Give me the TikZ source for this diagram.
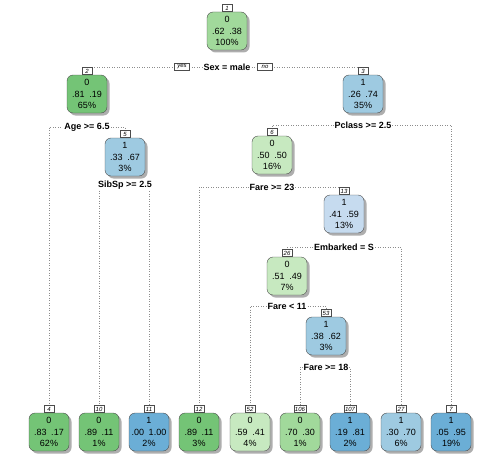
\documentclass[tikz,border=0pt]{standalone}
\usepackage{fontspec}
\setmainfont{Liberation Sans}
\usepackage{xcolor}
\usepackage{tikz}
\usetikzlibrary{positioning,shadows,backgrounds}

\definecolor{gnDark}{RGB}{116,196,118}
\definecolor{gnMid}{RGB}{161,217,155}
\definecolor{gnLight}{RGB}{199,233,192}
\definecolor{buLight}{RGB}{198,219,239}
\definecolor{buMid}{RGB}{158,202,225}
\definecolor{buDark}{RGB}{107,174,214}

\begin{document}
\begin{tikzpicture}[
  x=1pt, y=-1pt,
  treebox/.style={draw=black!70, rounded corners=6pt, minimum width=40pt, minimum height=38pt, inner sep=1pt, align=center,
    font=\fontsize{9}{11.5}\selectfont,
    drop shadow={shadow xshift=2.5pt, shadow yshift=-2.5pt, opacity=0.45, fill=black!70}},
  dkgreenbox/.style={treebox, fill=gnDark},
  greenbox/.style={treebox, fill=gnMid},
  ltgreenbox/.style={treebox, fill=gnLight},
  ltbluebox/.style={treebox, fill=buLight},
  bluebox/.style={treebox, fill=buMid},
  dkbluebox/.style={treebox, fill=buDark},
  idtab/.style={draw=black!70, fill=white, inner sep=0.8pt, minimum width=10pt, minimum height=7pt, font=\fontsize{6}{6}\itshape},
  yesno/.style={draw=black!70, fill=white, inner sep=1pt, minimum width=15pt, minimum height=7pt, font=\fontsize{6}{6}\itshape},
  splitlabel/.style={fill=white, inner sep=1pt, font=\fontsize{9}{10}\bfseries},
  branch/.style={draw=black!45, dotted, line width=0.5pt}
]
  \useasboundingbox (0,0) rectangle (500,460);

  % inner nodes
  \node[greenbox] (n1) at (227,31) {0\\.62\enspace.38\\100\%};
  \node[idtab, above=0pt of n1] (t1) {1};
  \node[splitlabel] (sex) at (227,67) {Sex = male};
  \node[yesno] (yes) at (182,67) {yes};
  \node[yesno] (no) at (265,67) {no};

  \node[dkgreenbox] (n2) at (87,94) {0\\.81\enspace.19\\65\%};
  \node[idtab, above=0pt of n2] (t2) {2};
  \node[splitlabel] (age) at (87,127) {Age >= 6.5};

  \node[bluebox] (n3) at (363,94) {1\\.26\enspace.74\\35\%};
  \node[idtab, above=0pt of n3] (t3) {3};
  \node[splitlabel] (pclass) at (363,125) {Pclass >= 2.5};

  \node[bluebox] (n5) at (125,157) {1\\.33\enspace.67\\3\%};
  \node[idtab, above=0pt of n5] (t5) {5};
  \node[splitlabel] (sibsp) at (125,185) {SibSp >= 2.5};

  \node[ltgreenbox] (n6) at (272,155) {0\\.50\enspace.50\\16\%};
  \node[idtab, above=0pt of n6] (t6) {6};
  \node[splitlabel] (fareA) at (272,187) {Fare >= 23};

  \node[ltbluebox] (n13) at (344,214) {1\\.41\enspace.59\\13\%};
  \node[idtab, above=0pt of n13] (t13) {13};
  \node[splitlabel] (emb) at (344,247) {Embarked = S};

  \node[ltgreenbox] (n26) at (287,276) {0\\.51\enspace.49\\7\%};
  \node[idtab, above=0pt of n26] (t26) {26};
  \node[splitlabel] (fareB) at (287,306) {Fare < 11};

  \node[bluebox] (n53) at (326,336) {1\\.38\enspace.62\\3\%};
  \node[idtab, above=0pt of n53] (t53) {53};
  \node[splitlabel] (fareC) at (326,367) {Fare >= 18};

  % leaves
  \node[dkgreenbox] (n4) at (49,432) {0\\.83\enspace.17\\62\%};
  \node[idtab, above=0pt of n4] (t4) {4};
  \node[dkgreenbox] (n10) at (99,432) {0\\.89\enspace.11\\1\%};
  \node[idtab, above=0pt of n10] (t10) {10};
  \node[dkbluebox] (n11) at (149,432) {1\\.00\enspace1.00\\2\%};
  \node[idtab, above=0pt of n11] (t11) {11};
  \node[dkgreenbox] (n12) at (199,432) {0\\.89\enspace.11\\3\%};
  \node[idtab, above=0pt of n12] (t12) {12};
  \node[ltgreenbox] (n52) at (250,432) {0\\.59\enspace.41\\4\%};
  \node[idtab, above=0pt of n52] (t52) {52};
  \node[greenbox] (n106) at (300,432) {0\\.70\enspace.30\\1\%};
  \node[idtab, above=0pt of n106] (t106) {106};
  \node[dkbluebox] (n107) at (350,432) {1\\.19\enspace.81\\2\%};
  \node[idtab, above=0pt of n107] (t107) {107};
  \node[bluebox] (n27) at (401,432) {1\\.30\enspace.70\\6\%};
  \node[idtab, above=0pt of n27] (t27) {27};
  \node[dkbluebox] (n7) at (451,432) {1\\.05\enspace.95\\19\%};
  \node[idtab, above=0pt of n7] (t7) {7};

  % branches
  \begin{scope}[on background layer]
    \draw[branch] (sex) -| (t2.north);
    \draw[branch] (sex) -| (t3.north);
    \draw[branch] (age) -| (t4.north);
    \draw[branch] (age) -| (t5.north);
    \draw[branch] (sibsp) -| (t10.north);
    \draw[branch] (sibsp) -| (t11.north);
    \draw[branch] (pclass) -| (t6.north);
    \draw[branch] (pclass) -| (t7.north);
    \draw[branch] (fareA) -| (t12.north);
    \draw[branch] (fareA) -| (t13.north);
    \draw[branch] (emb) -| (t26.north);
    \draw[branch] (emb) -| (t27.north);
    \draw[branch] (fareB) -| (t52.north);
    \draw[branch] (fareB) -| (t53.north);
    \draw[branch] (fareC) -| (t106.north);
    \draw[branch] (fareC) -| (t107.north);
  \end{scope}
\end{tikzpicture}
\end{document}
